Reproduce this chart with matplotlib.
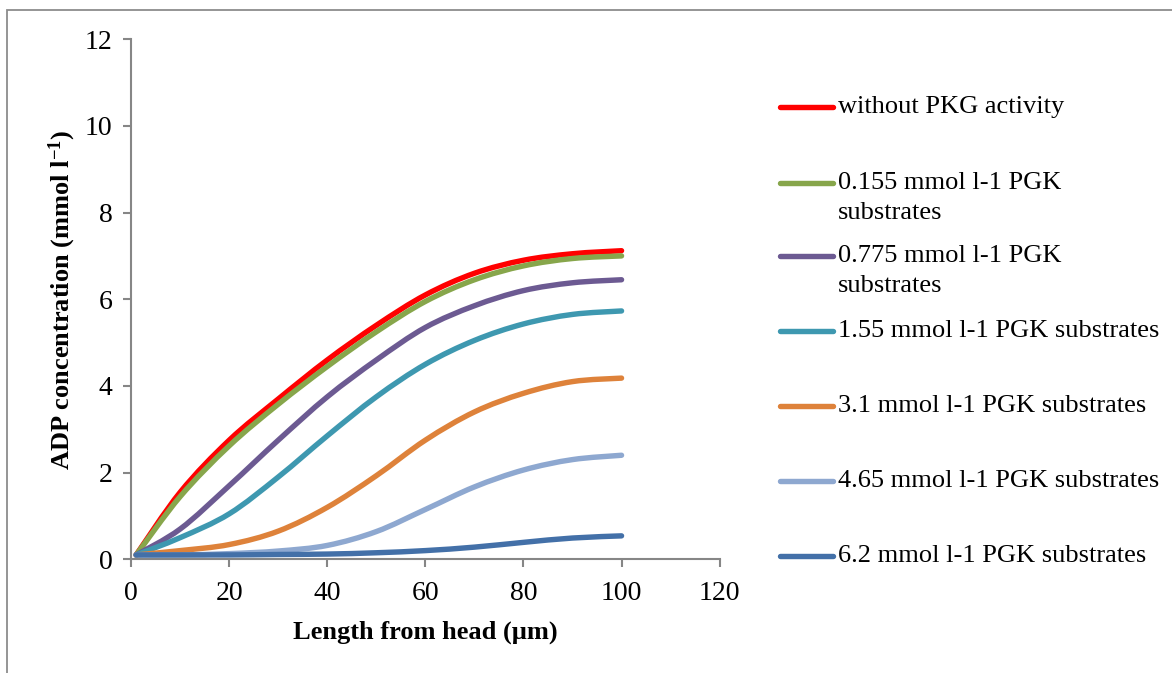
import matplotlib
matplotlib.use("Agg")
import matplotlib.pyplot as plt
import numpy as np
from matplotlib.path import Path
from matplotlib.patches import PathPatch, Rectangle
from matplotlib.lines import Line2D

plt.rcParams['font.family'] = ['Liberation Serif', 'DejaVu Serif']
plt.rcParams['mathtext.fontset'] = 'custom'
plt.rcParams['mathtext.rm'] = 'Liberation Serif'
plt.rcParams['mathtext.bf'] = 'Liberation Serif:bold'

# distance from head (um)
length = [1, 10, 20, 30, 40, 50, 60, 70, 80, 90, 100]

# ADP concentration (mmol l-1) for each case
no_pkg   = [0.1, 1.55, 2.75, 3.70, 4.60, 5.40, 6.10, 6.60, 6.90, 7.05, 7.12]
pgk_0155 = [0.1, 1.45, 2.62, 3.58, 4.45, 5.25, 5.95, 6.45, 6.77, 6.94, 7.00]
pgk_0775 = [0.1, 0.70, 1.70, 2.75, 3.75, 4.60, 5.35, 5.85, 6.20, 6.38, 6.45]
pgk_155  = [0.1, 0.50, 1.05, 1.90, 2.85, 3.75, 4.50, 5.05, 5.43, 5.65, 5.73]
pgk_31   = [0.1, 0.20, 0.34, 0.65, 1.20, 1.93, 2.75, 3.40, 3.83, 4.10, 4.18]
pgk_465  = [0.1, 0.10, 0.13, 0.19, 0.32, 0.64, 1.15, 1.67, 2.06, 2.30, 2.40]
pgk_62   = [0.1, 0.10, 0.10, 0.11, 0.12, 0.15, 0.20, 0.28, 0.39, 0.49, 0.54]

series = [no_pkg, pgk_0155, pgk_0775, pgk_155, pgk_31, pgk_465, pgk_62]
labels = ["without PKG activity",
          "0.155 mmol l-1 PGK\nsubstrates",
          "0.775 mmol l-1 PGK\nsubstrates",
          "1.55 mmol l-1 PGK substrates",
          "3.1 mmol l-1 PGK substrates",
          "4.65 mmol l-1 PGK substrates",
          "6.2 mmol l-1 PGK substrates"]
colors = ["#FF0000", "#87A64B", "#6C5A92", "#3E98B0",
          "#DE823A", "#8EA8D0", "#4370A8"]
LW = 3.9


def smooth_path(x, y):
    # Catmull-Rom style cubic bezier through the points (smoothed line)
    pts = np.column_stack([x, y]).astype(float)
    n = len(pts)
    verts = [pts[0]]
    codes = [Path.MOVETO]
    for i in range(n - 1):
        p0 = pts[max(i - 1, 0)]
        p1 = pts[i]
        p2 = pts[i + 1]
        p3 = pts[min(i + 2, n - 1)]
        c1 = p1 + (p2 - p0) / 6.0
        c2 = p2 - (p3 - p1) / 6.0
        verts += [c1, c2, p2]
        codes += [Path.CURVE4] * 3
    return Path(verts, codes)


fig = plt.figure(figsize=(11.72, 6.73), dpi=100)
ax = fig.add_axes([0.112, 0.169, 0.502, 0.7727])

for vals, c in zip(series, colors):
    patch = PathPatch(smooth_path(length, vals), facecolor='none', edgecolor=c,
                      lw=LW, capstyle='round', joinstyle='round')
    ax.add_patch(patch)

ax.set_xlim(0, 120)
ax.set_ylim(0, 12)
ax.set_xticks(np.arange(0, 121, 20))
ax.set_yticks(np.arange(0, 13, 2))

for s in ['top', 'right']:
    ax.spines[s].set_visible(False)
for s in ['left', 'bottom']:
    ax.spines[s].set_color('#868686')
    ax.spines[s].set_linewidth(1.5)
ax.tick_params(direction='out', length=5.5, width=1.5, color='#868686',
               labelsize=20, pad=8)
ax.tick_params(axis='x', pad=10)

ax.set_xlabel("Length from head (\u00b5m)", fontsize=19, fontweight='bold', labelpad=11)
fig.text(0.053, 0.554, r"ADP concentration (mmol l$\mathbf{^{-1}}$)", rotation=90,
         fontsize=19, fontweight='bold', ha='center', va='center')

# legend drawn by hand so the handle sits on the first text line
legend_y = [107, 183, 256, 331, 406, 481, 556]
W, H = 1172, 673
for ypx, lab, c in zip(legend_y, labels, colors):
    yf = 1 - ypx / H
    fig.add_artist(Line2D([780 / W, 833 / W], [yf, yf], color=c, lw=LW,
                          solid_capstyle='round', transform=fig.transFigure))
    for k, line in enumerate(lab.split("\n")):
        fig.text(838 / W, yf - k * 30 / H, line, fontsize=19,
                 ha='left', va='center')

# outer border of the chart area
fig.add_artist(Rectangle((7 / W, -0.1), 1.2, 0.985 + 0.1, fill=False,
                         edgecolor='#8c8c8c', lw=1.3, transform=fig.transFigure))

fig.savefig("out.png", dpi=100)
